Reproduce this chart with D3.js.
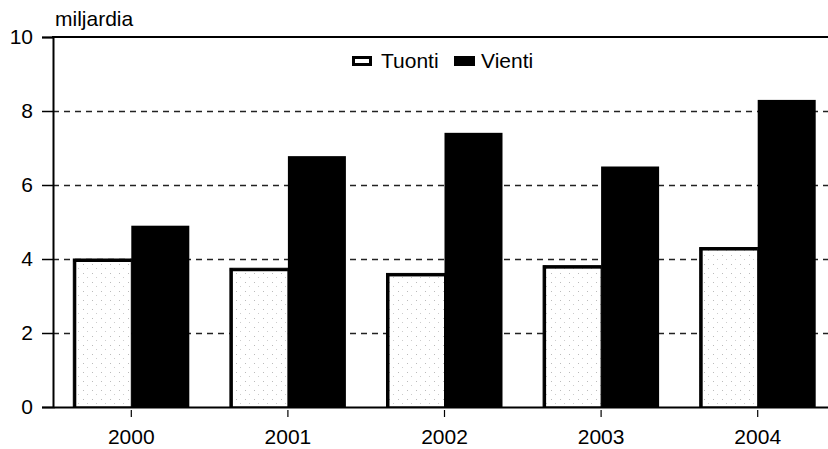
<!DOCTYPE html>
<html>
<head>
<meta charset="utf-8">
<script src="https://cdn.jsdelivr.net/npm/d3@7"></script>
<style>
  html, body { margin: 0; padding: 0; background: #fff; }
  svg { display: block; font-family: "Liberation Sans", Arial, sans-serif; }
</style>
</head>
<body>
<svg id="chart" width="828" height="449"></svg>
<script>
const categories = ["2000", "2001", "2002", "2003", "2004"];
const tuonti = [4.0, 3.75, 3.61, 3.82, 4.31];
const vienti = [4.9, 6.78, 7.41, 6.5, 8.3];
const yTicks = [0, 2, 4, 6, 8, 10];
const seriesNames = ["Tuonti", "Vienti"];
const unitLabel = "miljardia";

(function () {
const svg = d3.select("#chart");
const pLeft = 53, pTop = 37, pBottom = 407, pRight = 836;
const FS = 21;

const x = d3.scaleBand().domain(categories).range([pLeft, pRight]).paddingInner(0).paddingOuter(0);
const y = d3.scaleLinear().domain([0, 10]).range([pBottom, pTop]);
const barW = 58;

const defs = svg.append("defs");
const pat = defs.append("pattern").attr("id", "stip").attr("patternUnits", "userSpaceOnUse")
  .attr("width", 9).attr("height", 9);
pat.append("rect").attr("width", 9).attr("height", 9).attr("fill", "#fff");
pat.append("rect").attr("x", 2).attr("y", 3).attr("width", 1).attr("height", 1).attr("fill", "#bbb");
pat.append("rect").attr("x", 6).attr("y", 7).attr("width", 1).attr("height", 1).attr("fill", "#ccc");

// gridlines
svg.append("g").selectAll("line").data(yTicks.filter(d => d > 0 && d < 10)).join("line")
  .attr("x1", pLeft).attr("x2", 828)
  .attr("y1", d => y(d) + 0.5).attr("y2", d => y(d) + 0.5)
  .attr("stroke", "#222").attr("stroke-width", 1.3).attr("stroke-dasharray", "6,5");

// bars
const g = svg.append("g");
categories.forEach((c, i) => {
  const cx = x(c) + x.bandwidth() / 2;
  const tx = cx - barW, ty = y(tuonti[i]);
  g.append("rect").attr("x", tx).attr("y", ty).attr("width", barW).attr("height", pBottom - ty)
    .attr("fill", "url(#stip)").attr("stroke", "#000").attr("stroke-width", 1);
  g.append("rect").attr("x", tx).attr("y", ty).attr("width", 3).attr("height", pBottom - ty).attr("fill", "#000");
  g.append("rect").attr("x", tx).attr("y", ty).attr("width", barW).attr("height", 3).attr("fill", "#000");
  const vy = y(vienti[i]);
  g.append("rect").attr("x", cx).attr("y", vy).attr("width", barW).attr("height", pBottom - vy)
    .attr("fill", "#000");
});

// axes
const yAxis = d3.axisLeft(y).tickValues(yTicks).tickSize(11).tickPadding(9).tickFormat(d3.format("d"));
const ya = svg.append("g").attr("transform", `translate(${pLeft},0)`).call(yAxis);
ya.attr("font-size", FS).attr("font-family", "Liberation Sans, Arial, sans-serif");
ya.select(".domain").attr("stroke", "#000").attr("stroke-width", 2);
ya.selectAll(".tick line").attr("stroke", "#000").attr("stroke-width", 1.5);
ya.selectAll("text").attr("fill", "#000");

const xAxis = d3.axisBottom(x).tickSize(10).tickPadding(12).tickSizeOuter(0);
const xa = svg.append("g").attr("transform", `translate(0,${pBottom})`).call(xAxis);
xa.attr("font-size", FS).attr("font-family", "Liberation Sans, Arial, sans-serif");
xa.select(".domain").attr("stroke", "#000").attr("stroke-width", 2);
xa.selectAll(".tick line").attr("stroke", "#000").attr("stroke-width", 1.2).attr("y1", 3);
xa.selectAll("text").attr("fill", "#000");

// top frame
svg.append("line").attr("x1", pLeft - 1).attr("x2", 828).attr("y1", pTop).attr("y2", pTop)
  .attr("stroke", "#000").attr("stroke-width", 2);

// unit label
svg.append("text").attr("x", 55).attr("y", 26).attr("font-size", FS).attr("fill", "#000").text(unitLabel);

// legend
const lg = svg.append("g").attr("font-size", FS).attr("fill", "#000");
lg.append("rect").attr("x", 353.5).attr("y", 57.5).attr("width", 17).attr("height", 7)
  .attr("fill", "#fff").attr("stroke", "#000").attr("stroke-width", 3);
lg.append("text").attr("x", 381).attr("y", 68).text(seriesNames[0]);
lg.append("rect").attr("x", 454).attr("y", 56).attr("width", 21).attr("height", 10).attr("fill", "#000");
lg.append("text").attr("x", 481).attr("y", 68).text(seriesNames[1]);
})();
</script>
</body>
</html>
